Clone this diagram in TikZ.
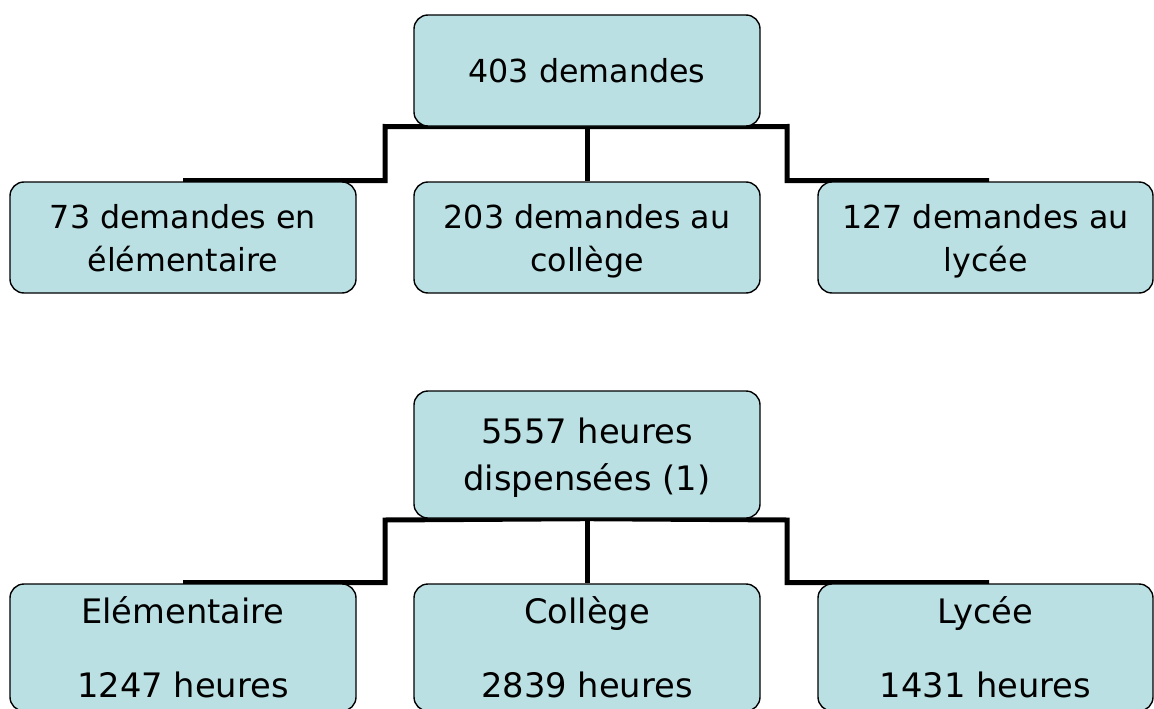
\documentclass[tikz,border=0pt]{standalone}
\usepackage{fontspec}
\setmainfont{DejaVu Sans}
\usetikzlibrary{backgrounds}
\definecolor{boxfill}{HTML}{BBE0E3}
\begin{document}
\begin{tikzpicture}[x=1pt,y=-1pt,
  box/.style={draw=black, line width=1.4pt, fill=boxfill, rounded corners=14pt,
    inner sep=0pt, align=center, text depth=0pt},
  smallbox/.style={box, minimum width=346pt, minimum height=111pt,
    font=\fontsize{31.7}{43}\selectfont},
  bigbox/.style={box, minimum width=346pt, minimum height=127pt,
    font=\fontsize{33.7}{47}\selectfont},
  levelbox/.style={box, minimum width=346pt, minimum height=127pt,
    font=\fontsize{33.7}{37}\selectfont},
  conn/.style={draw=black, line width=5pt}]
\useasboundingbox (0,0) rectangle (1154,709);

% ---- top chart ----
\node[smallbox] (t1) at (587,70.5) {403 demandes};
\node[smallbox] (c1) at (183,237.5) {73 demandes en\\élémentaire};
\node[smallbox] (c2) at (587,237.5) {203 demandes au\\collège};
\node[smallbox, minimum width=335pt] (c3) at (985.5,237.5) {127 demandes au\\lycée};

% ---- bottom chart ----
\node[bigbox] (t2) at (587,454.5) {5557 heures\\dispensées (1)};
\node[levelbox] (d1) at (183,647.5) {Elémentaire\\[37pt]1247 heures};
\node[levelbox] (d2) at (587,647.5) {Collège\\[37pt]2839 heures};
\node[levelbox, minimum width=335pt] (d3) at (985.5,647.5) {Lycée\\[37pt]1431 heures};

\coordinate (a1) at (385,126.5);
\coordinate (a2) at (385,180.5);
\coordinate (b1) at (787,126.5);
\coordinate (b2) at (787,180.5);
\coordinate (p1) at (385,520);
\coordinate (p2) at (385,582.5);
\coordinate (q1) at (787,520);
\coordinate (q2) at (787,582.5);

\begin{scope}[on background layer]
  \draw[conn] (t1.south) -- (a1) -- (a2) -- (a2 -| c1.north);
  \draw[conn] (t1.south) -- (c2.north);
  \draw[conn] (t1.south) -- (b1) -- (b2) -- ([xshift=3.5pt]b2 -| c3.north);
  \draw[conn] (t2.south) -- (p1) -- (p2) -- (p2 -| d1.north);
  \draw[conn] (t2.south) -- (d2.north);
  \draw[conn] (t2.south) -- (q1) -- (q2) -- ([xshift=3.5pt]q2 -| d3.north);
\end{scope}
\end{tikzpicture}
\end{document}
